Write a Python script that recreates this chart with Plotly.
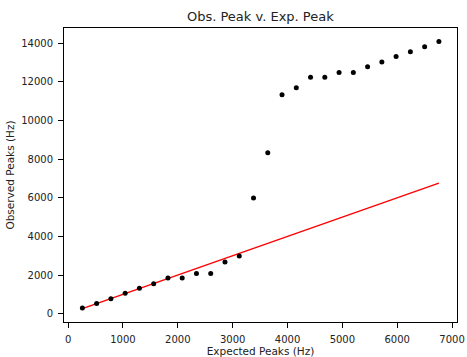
import plotly.graph_objects as go

expected = [260, 520, 780, 1040, 1300, 1560, 1820, 2080, 2340, 2600, 2860, 3120, 3380,
            3640, 3900, 4160, 4420, 4680, 4940, 5200, 5460, 5720, 5980, 6240, 6500, 6760]
observed = [290, 530, 775, 1060, 1320, 1550, 1845, 1845, 2085, 2085, 2670, 2990, 5990,
            8330, 11340, 11700, 12240, 12240, 12490, 12490, 12790, 13030, 13320, 13560, 13820, 14090]
line_x = [expected[0], expected[-1]]
line_y = [expected[0], expected[-1]]
x_ticks = [0, 1000, 2000, 3000, 4000, 5000, 6000, 7000]
y_ticks = [0, 2000, 4000, 6000, 8000, 10000, 12000, 14000]

font = "DejaVu Sans"
fig = go.Figure()
fig.add_trace(go.Scatter(x=line_x, y=line_y, mode="lines",
                         line=dict(color="#ff0000", width=1.4), showlegend=False))
fig.add_trace(go.Scatter(x=expected, y=observed, mode="markers",
                         marker=dict(color="black", size=5), showlegend=False))

axis_common = dict(showgrid=False, zeroline=False, showline=True, linecolor="black",
                   linewidth=1, mirror=True, ticks="outside", ticklen=5, tickwidth=1,
                   tickcolor="black", tickformat="d", automargin=False,
                   tickfont=dict(family=font, size=10, color="#222"))
fig.update_layout(
    width=467, height=357,
    margin=dict(l=63.5, r=9.5, t=28, b=34.7),
    paper_bgcolor="white", plot_bgcolor="white",
    title=dict(text="Obs. Peak v. Exp. Peak", x=0.5575, xanchor="center", y=0.955, yanchor="middle",
               font=dict(family=font, size=13, color="#222")),
    xaxis=dict(range=[-75, 7090], tickvals=x_ticks, ticklabelstandoff=3,
               title=dict(text="Expected Peaks (Hz)", font=dict(family=font, size=10.5, color="#222"), standoff=3),
               **axis_common),
    yaxis=dict(range=[-430, 14790], tickvals=y_ticks, ticklabelstandoff=3,
               title=dict(text="Observed Peaks (Hz)", font=dict(family=font, size=10.5, color="#222"), standoff=4),
               **axis_common),
)
fig.write_html("out.html")
